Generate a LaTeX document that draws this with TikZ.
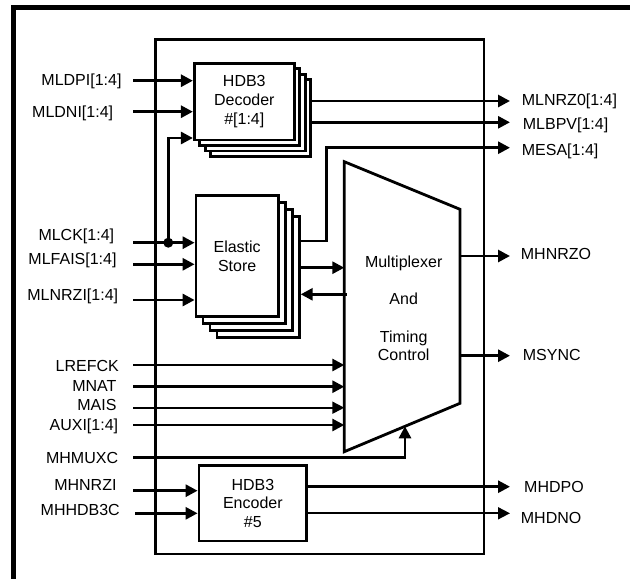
\documentclass[tikz,border=0pt]{standalone}
\usepackage{fontspec}
\setmainfont{Liberation Sans}
\usetikzlibrary{arrows.meta,calc}
\begin{document}
\begin{tikzpicture}[x=1pt,y=-1pt,
  ln/.style={line width=2.8pt},
  thinln/.style={line width=1.8pt},
  arr/.style={line width=2.8pt,-{Triangle[length=12pt,width=12pt]}},
  thinarr/.style={line width=1.8pt,-{Triangle[length=12pt,width=12pt]}},
  box/.style={draw,line width=2.8pt,fill=white,inner sep=0pt},
  lbl/.style={inner sep=0pt,text height=11.5pt,text depth=0pt,font=\fontsize{16}{18}\selectfont},
  txt/.style={align=center,font=\fontsize{16}{18.8}\selectfont}]
\useasboundingbox (0,0) rectangle (630,579);
% outer frame
\draw[line width=5pt,line join=miter] (13.5,585) -- (13.5,7.5) -- (640,7.5);
% inner box
\draw[ln] (155.3,39.3) rectangle (484,554);

% decoder stack
\foreach \k in {3,2,1}
  \node[box,minimum width=100pt,minimum height=76.7pt] (dec\k) at ($(244.3,101.65)+(\k*5.5,\k*5.5)$) {};
\node[box,txt,minimum width=100pt,minimum height=76.7pt] (dec) at (244.3,101.65) {HDB3\\Decoder\\\#[1:4]};

% elastic store stack
\foreach \k in {3,2,1}
  \node[box,minimum width=82.3pt,minimum height=121pt] (el\k) at ($(237.15,256.2)+(\k*7,\k*7)$) {};
\node[box,txt,minimum width=82.3pt,minimum height=121pt] (el) at (237.15,256.2) {Elastic\\Store};

% encoder
\node[box,txt,minimum width=107.7pt,minimum height=75.3pt] (enc) at (252.85,503.35) {HDB3\\Encoder\\\#5};

% multiplexer
\coordinate (m1) at (344.3,161.7);
\coordinate (m2) at (460,209.3);
\coordinate (m3) at (460,403.3);
\coordinate (m4) at (344.3,451.7);
\draw[ln,line join=miter] (m1) -- (m2) -- (m3) -- (m4) -- cycle;
\node[lbl] (mt1) at (403.7,261.7) {Multiplexer};
\node[lbl] (mt2) at (403.7,298.3) {And};
\node[lbl] (mt3) at (403.7,336.7) {Timing};
\node[lbl] (mt4) at (403.7,355) {Control};

% left labels
\node[lbl,anchor=east] (lMLDPI) at (121.7,79.7) {MLDPI[1:4]};
\node[lbl,anchor=east] (lMLDNI) at (113.3,111.7) {MLDNI[1:4]};
\node[lbl,anchor=east] (lMLCK) at (114.3,235) {MLCK[1:4]};
\node[lbl,anchor=east] (lMLFAIS) at (116.7,258.3) {MLFAIS[1:4]};
\node[lbl,anchor=east] (lMLNRZI) at (118.3,294.3) {MLNRZI[1:4]};
\node[lbl,anchor=east] (lLREFCK) at (119,365.7) {LREFCK};
\node[lbl,anchor=east] (lMNAT) at (116.7,385.7) {MNAT};
\node[lbl,anchor=east] (lMAIS) at (116.7,405) {MAIS};
\node[lbl,anchor=east] (lAUXI) at (118.3,425) {AUXI[1:4]};
\node[lbl,anchor=east] (lMHMUXC) at (118.3,457.3) {MHMUXC};
\node[lbl,anchor=east] (lMHNRZI) at (116.7,485) {MHNRZI};
\node[lbl,anchor=east] (lMHHDB3C) at (120,510) {MHHDB3C};

% right labels
\node[lbl,anchor=west] (lMLNRZ0) at (521.7,100) {MLNRZ0[1:4]};
\node[lbl,anchor=west] (lMLBPV) at (522.7,123.3) {MLBPV[1:4]};
\node[lbl,anchor=west] (lMESA) at (521.7,150) {MESA[1:4]};
\node[lbl,anchor=west] (lMHNRZO) at (520.7,254) {MHNRZO};
\node[lbl,anchor=west] (lMSYNC) at (522.7,355) {MSYNC};
\node[lbl,anchor=west] (lMHDPO) at (524,486.7) {MHDPO};
\node[lbl,anchor=west] (lMHDNO) at (520.7,517.3) {MHDNO};

% input line starts
\coordinate (iMLDPI) at (133,80.7);
\coordinate (iMLDNI) at (133,111.7);
\coordinate (iMLCK) at (133,242.7);
\coordinate (iMLFAIS) at (133,264.3);
\coordinate (iMLNRZI) at (133,300);
\coordinate (iLREFCK) at (133,365);
\coordinate (iMNAT) at (133,386.7);
\coordinate (iMAIS) at (133,407.7);
\coordinate (iAUXI) at (133,425);
\coordinate (iMHMUXC) at (133,457.3);
\coordinate (iMHNRZI) at (133,490.7);
\coordinate (iMHHDB3C) at (135,513.3);
\coordinate (jn) at (168.3,242.7);
\coordinate (br) at (168.3,138);

% output ends
\coordinate (oMLNRZ0) at (510,101);
\coordinate (oMLBPV) at (510,122.3);
\coordinate (oMESA) at (510,147.7);
\coordinate (oMHNRZO) at (510,256);
\coordinate (oMSYNC) at (510,355.7);
\coordinate (oMHDPO) at (510,486.7);
\coordinate (oMHDNO) at (510,513.3);

% decoder connections
\draw[arr] (iMLDPI) -- (iMLDPI -| dec.west);
\draw[arr] (iMLDNI) -- (iMLDNI -| dec.west);
\draw[arr] (jn) -- (br) -- (br -| dec.west);
\draw[arr] (oMLNRZ0 -| dec3.east) -- (oMLNRZ0);
\draw[arr] (oMLBPV -| dec3.east) -- (oMLBPV);

% elastic connections
\draw[arr] (iMLCK) -- (iMLCK -| el.west);
\fill (jn) circle (5);
\draw[arr] (iMLFAIS) -- (iMLFAIS -| el.west);
\draw[arr] (iMLNRZI) -- (iMLNRZI -| el.west);
\coordinate (esa) at (326.5,241);
\draw[arr] (esa -| el3.east) -- (esa) -- (esa |- oMESA) -- (oMESA);
\coordinate (emx) at (0,267.7);
\draw[arr] (emx -| el3.east) -- (emx -| m1);
\coordinate (mxe) at (346.7,294.3);
\draw[arr] (mxe) -- (mxe -| el3.east);

% mux inputs
\draw[arr] (iLREFCK) -- (iLREFCK -| m1);
\draw[arr] (iMNAT) -- (iMNAT -| m1);
\draw[thinarr] (iMAIS) -- (iMAIS -| m1);
\draw[arr] (iAUXI) -- (iAUXI -| m1);
\coordinate (mx) at ($(m4)!0.5246!(m3)$);
\draw[arr] (iMHMUXC) -| (mx);

% mux outputs
\draw[arr] (oMHNRZO -| m2) -- (oMHNRZO);
\draw[arr] (oMSYNC -| m2) -- (oMSYNC);

% encoder
\draw[arr] (iMHNRZI) -- (iMHNRZI -| enc.west);
\draw[arr] (iMHHDB3C) -- (iMHHDB3C -| enc.west);
\draw[arr] (oMHDPO -| enc.east) -- (oMHDPO);
\draw[thinarr] (oMHDNO -| enc.east) -- (oMHDNO);
\end{tikzpicture}
\end{document}
